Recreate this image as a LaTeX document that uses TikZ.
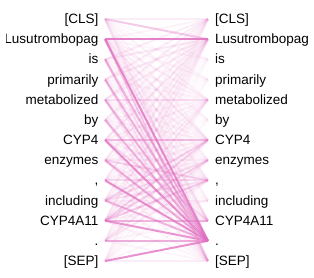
\documentclass[tikz,border=0pt]{standalone}
\usepackage{fontspec}
\setmainfont{Liberation Sans}
\definecolor{attn}{RGB}{224,110,192}
\begin{document}
\begin{tikzpicture}[x=1pt,y=-1pt,
  tok/.style={inner sep=0pt,font=\fontsize{13.5}{15}\selectfont,text=black},
  ltok/.style={tok,anchor=base east},
  rtok/.style={tok,anchor=base west},
  link/.style={draw=attn,line width=2pt}]
\useasboundingbox (0,0) rectangle (314,277);
\def\rowgap{20.17}
\foreach \i in {0,...,12}{
  \coordinate (l\i) at (105,{19+\i*\rowgap});
  \coordinate (r\i) at (208,{19+\i*\rowgap});
}
% attention lines
\foreach \row [count=\i from 0] in {
 {.12,.35,.05,.05,.08,.03,.07,.04,.05,.03,.07,.15,.05},
 {.08,.85,.07,.08,.1,.07,.15,.08,.1,.07,.2,.8,.3},
 {.12,.15,.02,.03,.07,.02,.07,.03,.05,.02,.07,.5,.15},
 {.12,.15,.02,.02,.08,.02,.07,.03,.07,.02,.08,.5,.15},
 {.12,.12,.02,.02,.22,.02,.08,.05,.07,.02,.08,.5,.15},
 {.08,.1,.02,.02,.08,.02,.1,.05,.08,.03,.08,.5,.1},
 {.08,.15,.02,.02,.1,.02,.45,.07,.1,.03,.25,.75,.1},
 {.07,.1,.02,.02,.08,.02,.1,.12,.3,.03,.1,.55,.1},
 {.07,.1,.02,.02,.08,.02,.1,.08,.25,.03,.1,.75,.08},
 {.07,.1,.02,.02,.1,.02,.3,.22,.2,.1,.1,.5,.08},
 {.07,.12,.02,.02,.15,.02,.3,.3,.35,.07,.5,.7,.08},
 {.05,.08,.02,.02,.07,.02,.1,.15,.15,.02,.07,.55,.07},
 {.04,.07,.02,.02,.05,.02,.05,.05,.07,.02,.07,.75,.12}}{
  \foreach \w [count=\j from 0] in \row {
    \draw[link,draw opacity=\w] (l\i) -- (r\j);
  }
}
% tokens
\begin{scope}
\clip (6.5,0) rectangle (101,277);
\foreach \t [count=\i from 0] in {[CLS],Lusutrombopag,is,primarily,metabolized,by,CYP4,enzymes,{,},including,CYP4A11,.,[SEP]}{
  \node[ltok] (lt\i) at ([yshift=-4.6pt]l\i -| 98.5,0) {\t};
}
\end{scope}
\foreach \t [count=\i from 0] in {[CLS],Lusutrombopag,is,primarily,metabolized,by,CYP4,enzymes,{,},including,CYP4A11,.,[SEP]}{
  \node[rtok] (rt\i) at ([yshift=-4.6pt]r\i -| 215,0) {\t};
}
\end{tikzpicture}
\end{document}
